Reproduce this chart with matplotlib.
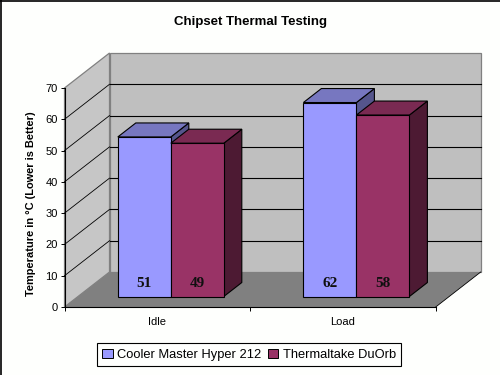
import matplotlib
matplotlib.use('Agg')
import matplotlib.pyplot as plt
from matplotlib.patches import Polygon, Patch
from matplotlib.lines import Line2D

plt.rcParams['font.family'] = ['Liberation Sans', 'DejaVu Sans']

categories = ['Idle', 'Load']
series_names = ['Cooler Master Hyper 212', 'Thermaltake DuOrb']
cooler_master = [51, 62]
thermaltake = [49, 58]
y_ticks = [0, 10, 20, 30, 40, 50, 60, 70]

# цвета: перед, верх, бок
colors = [('#9999FF', '#7777C0', '#55558C'), ('#993366', '#7A2A52', '#4D1A33')]

W, H = 500, 375
bg = '#FEFFFD'
fig = plt.figure(figsize=(5, 3.75), dpi=100, facecolor=bg)
ax = fig.add_axes([64.5 / W, (H - 307) / H, 371.2 / W, 219 / H])
ax.set_xlim(0, len(categories))
ax.set_ylim(0, 70)
ax.patch.set_visible(False)

# сдвиг глубины в единицах данных
DX = 45 / 185.6
DY = 35 / 3.13


def pr(x, y, d):
    return (x + d * DX, y + d * DY)


def poly(points, face, edge='black', lw=0.8, z=2):
    ax.add_patch(Polygon(points, closed=True, facecolor=face, edgecolor=edge,
                         linewidth=lw, zorder=z, clip_on=False, joinstyle='miter'))


x_end = len(categories)
# стены и пол
poly([pr(0, 0, 1), pr(x_end, 0, 1), pr(x_end, 70, 1), pr(0, 70, 1)], '#BFBFBF', '#808080', 0.9, 1)
poly([pr(0, 0, 0), pr(0, 0, 1), pr(0, 70, 1), pr(0, 70, 0)], '#C6C6C6', '#808080', 0.9, 1)
poly([pr(0, 0, 0), pr(x_end, 0, 0), pr(x_end, 0, 1), pr(0, 0, 1)], '#808080', 'none', 0, 1.5)

# сетка
for v in y_ticks[1:-1]:
    xs, ys = zip(pr(0, v, 1), pr(x_end, v, 1))
    ax.plot(xs, ys, color='black', lw=0.8, zorder=1.2, clip_on=False)
    xs, ys = zip(pr(0, v, 0), pr(0, v, 1))
    ax.plot(xs, ys, color='black', lw=0.6, zorder=1.2, clip_on=False)
xs, ys = zip(pr(x_end, 0, 0), pr(x_end, 0, 1))
ax.plot(xs, ys, color='black', lw=0.6, zorder=1.6, clip_on=False)

# столбики
bar_w = 53 / 185.6
d0, d1 = 0.3, 0.7
z = 3
for i in range(len(categories)):
    for s, vals in enumerate([cooler_master, thermaltake]):
        front, top, side = colors[s]
        v = vals[i]
        x0 = i + 0.5 - bar_w + s * bar_w
        x1 = x0 + bar_w
        poly([pr(x1, 0, d0), pr(x1, 0, d1), pr(x1, v, d1), pr(x1, v, d0)], side, z=z)
        poly([pr(x0, v, d0), pr(x1, v, d0), pr(x1, v, d1), pr(x0, v, d1)], top, z=z)
        poly([pr(x0, 0, d0), pr(x1, 0, d0), pr(x1, v, d0), pr(x0, v, d0)], front, z=z)
        tx, ty = pr((x0 + x1) / 2, 4.2, d0)
        ax.text(tx, ty, str(v), ha='center', va='center', fontsize=11, fontweight='bold',
                family=['Liberation Serif', 'DejaVu Serif'], color='#101010', zorder=z + 1)
        z += 1

# оси
for name in ['top', 'right']:
    ax.spines[name].set_visible(False)
for name in ['left', 'bottom']:
    ax.spines[name].set_linewidth(0.8)
    ax.spines[name].set_zorder(20)
ax.set_yticks(y_ticks)
ax.set_xticks(range(len(categories) + 1))
ax.set_xticklabels([])
ax.set_xticks([i + 0.5 for i in range(len(categories))], minor=True)
ax.set_xticklabels(categories, minor=True, fontsize=8)
ax.tick_params(axis='x', which='major', length=3, width=0.7, direction='out')
ax.tick_params(axis='x', which='minor', length=0, pad=7)
ax.tick_params(axis='y', length=3, width=0.7, labelsize=8, pad=2)

fig.text(250 / W, 1 - 22 / H, 'Chipset Thermal Testing', ha='center', va='center',
         fontsize=9.5, fontweight='bold')
fig.text(31 / W, 1 - 203.5 / H, 'Temperature in °C (Lower is Better)', rotation=90,
         ha='center', va='center', fontsize=7.9, fontweight='bold')

# легенда
handles = [Patch(facecolor=colors[i][0], edgecolor='black', linewidth=0.7, label=series_names[i])
           for i in range(2)]
fig.legend(handles=handles, loc='center', bbox_to_anchor=(249 / W, 1 - 354.8 / H), ncol=2,
           fontsize=9.3, frameon=True, fancybox=False, edgecolor='black', framealpha=1,
           facecolor=bg, handlelength=0.8, handleheight=0.8, handletextpad=0.35,
           columnspacing=0.5, borderpad=0.42, borderaxespad=0).get_frame().set_linewidth(0.8)

# рамка рисунка слева и сверху
fig.add_artist(Line2D([0.6 / W, 0.6 / W], [0, 1], color='black', lw=1.2))
fig.add_artist(Line2D([0, 1], [1 - 0.6 / H, 1 - 0.6 / H], color='black', lw=1.2))

fig.savefig('out.png', dpi=100, facecolor=bg)
